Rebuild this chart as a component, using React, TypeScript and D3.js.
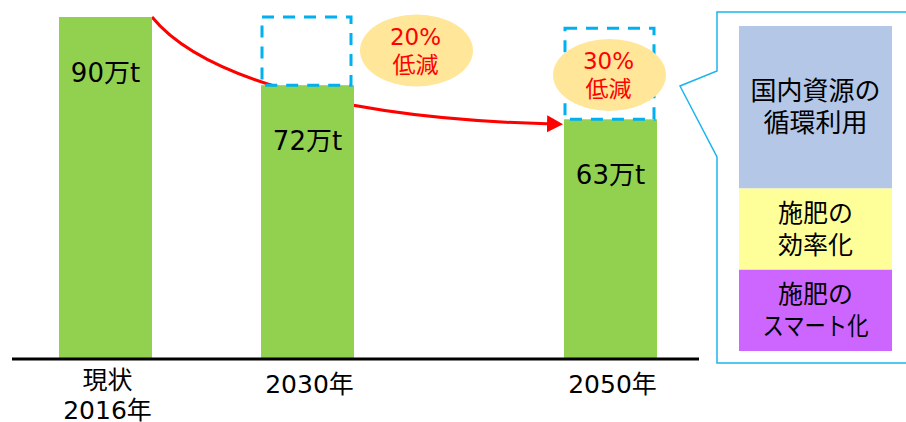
import React from "react";
import * as d3 from "d3";

// ---- data ----
const categoryLines: string[][] = [["現状", "2016年"], ["2030年"], ["2050年"]];
const categorySlots: number[] = [0, 2, 5];
const values: number[] = [90, 72, 63];
const valueUnit = "万t";
const ghostTops: (number | null)[] = [null, 90, 87];
const reductionLabels: (string | null)[] = [null, "20%", "30%"];
const reductionWord = "低減";
const measureLabels: string[][] = [
  ["国内資源の", "循環利用"],
  ["施肥の", "効率化"],
  ["施肥の", "スマート化"],
];
const measureWeights: number[] = [2, 1, 1];

// ---- styles ----
const W = 906;
const H = 422;
const GREEN = "#92D050";
const CYAN = "#00B0F0";
const RED = "#FF0000";
const ELLIPSE = "#FFE699";
const measureColors = ["#B4C7E7", "#FFFF99", "#CC66FF"];
const FONT = '"DejaVu Sans", "Noto Sans CJK JP", sans-serif';
const CJK = '"Noto Sans CJK JP", sans-serif';

export default function App() {
  const x = d3.scaleLinear().domain([0, 5]).range([105.5, 610.5]);
  const y = d3.scaleLinear().domain([0, 90]).range([358, 17]);
  const bw = 93;

  const bars = values.map((v, i) => {
    const cx = x(categorySlots[i]);
    return { v, i, cx, x0: cx - bw / 2, top: y(v) };
  });

  // red curve from first bar top-right to just before the last bar
  const b0 = bars[0];
  const bl = bars[bars.length - 1];
  const start: [number, number] = [b0.x0 + bw, b0.top];
  const end: [number, number] = [bl.x0 - 17, bl.top + 4.5];
  const curve = d3.path();
  curve.moveTo(start[0], start[1]);
  curve.bezierCurveTo(start[0] + 43, start[1] + 53, start[0] + 168, end[1] - 6, end[0], end[1]);

  // callout panel
  const inner = { x: 739, y: 26, w: 153, h: 325 };
  const totalW = d3.sum(measureWeights);
  const hs = d3.scaleLinear().domain([0, totalW]).range([0, inner.h]);
  let acc = 0;
  const measures = measureWeights.map((w, i) => {
    const m = { y0: inner.y + hs(acc), h: hs(w), i };
    acc += w;
    return m;
  });

  const ellipseOffsets: ([number, number] | null)[] = [null, [109, 50.5], [-1, 75]];

  return (
    <svg
      width={W}
      height={H}
      style={{ position: "absolute", left: 0, top: 0, background: "#fff" }}
    >
      <defs>
        <marker
          id="arrow"
          markerUnits="userSpaceOnUse"
          markerWidth={20}
          markerHeight={20}
          viewBox="0 -10 20 20"
          refX={0}
          refY={0}
          orient="auto"
        >
          <path d="M0,-8.5 L16,0 L0,8.5 Z" fill={RED} />
        </marker>
      </defs>

      {/* red trend curve (behind bars) */}
      <path d={curve.toString()} fill="none" stroke={RED} strokeWidth={3} markerEnd="url(#arrow)" />

      {/* bars */}
      {bars.map((b) => (
        <rect key={"bar" + b.i} x={b.x0} y={b.top} width={bw} height={y(0) - b.top} fill={GREEN} />
      ))}

      {/* ghost (previous level) dashed boxes */}
      {bars.map((b) => {
        const g = ghostTops[b.i];
        if (g == null) return null;
        return (
          <rect
            key={"ghost" + b.i}
            x={b.x0 + 1}
            y={y(g)}
            width={bw - 4}
            height={b.top - y(g)}
            fill="none"
            stroke={CYAN}
            strokeWidth={3}
            strokeDasharray="12 9"
          />
        );
      })}

      {/* value labels */}
      {bars.map((b) => (
        <text
          key={"lbl" + b.i}
          x={b.cx}
          y={b.top + 65}
          textAnchor="middle"
          fontFamily={FONT}
          fontSize={26}
          fill="#000"
        >
          {b.v}
          {valueUnit}
        </text>
      ))}

      {/* reduction ellipses */}
      {bars.map((b) => {
        const off = ellipseOffsets[b.i];
        const lab = reductionLabels[b.i];
        if (!off || !lab) return null;
        const ex = b.cx + off[0];
        const ey = off[1];
        return (
          <g key={"ell" + b.i}>
            <ellipse cx={ex} cy={ey} rx={56.5} ry={36} fill={ELLIPSE} />
            <text x={ex - 1} y={ey - 6} textAnchor="middle" fontFamily={FONT} fontSize={23} fill={RED}>
              {lab}
            </text>
            <text x={ex - 1} y={ey + 22} textAnchor="middle" fontFamily={CJK} fontSize={23} fill={RED}>
              {reductionWord}
            </text>
          </g>
        );
      })}

      {/* axis baseline */}
      <line x1={12} x2={699} y1={359} y2={359} stroke="#000" strokeWidth={3} />

      {/* category labels */}
      {bars.map((b) =>
        categoryLines[b.i].map((line, li) => (
          <text
            key={"cat" + b.i + "-" + li}
            x={b.cx + 2}
            y={(categoryLines[b.i].length > 1 ? 389 : 393) + li * 30}
            textAnchor="middle"
            fontFamily={FONT}
            fontSize={25}
            fill="#000"
          >
            {line}
          </text>
        ))
      )}

      {/* callout panel */}
      <path
        d="M910,12 L717,12 L717,71 L680,86 L717,157 L717,363 L910,363"
        fill="#fff"
        stroke="#1CB4EE"
        strokeWidth={1.5}
      />
      {measures.map((m) => (
        <g key={"m" + m.i}>
          <rect x={inner.x} y={m.y0} width={inner.w} height={m.h} fill={measureColors[m.i]} />
          {measureLabels[m.i].map((line, li) => {
            const n = measureLabels[m.i].length;
            const cy = m.y0 + m.h / 2 + (li - (n - 1) / 2) * 32 + 9;
            const fit = line === "スマート化" ? { textLength: 106, lengthAdjust: "spacingAndGlyphs" } : {};
            return (
              <text
                key={li}
                x={inner.x + inner.w / 2}
                y={cy}
                textAnchor="middle"
                fontFamily={CJK}
                fontSize={m.i === 0 ? 26 : 25}
                fill="#000"
                {...fit}
              >
                {line}
              </text>
            );
          })}
        </g>
      ))}
    </svg>
  );
}
